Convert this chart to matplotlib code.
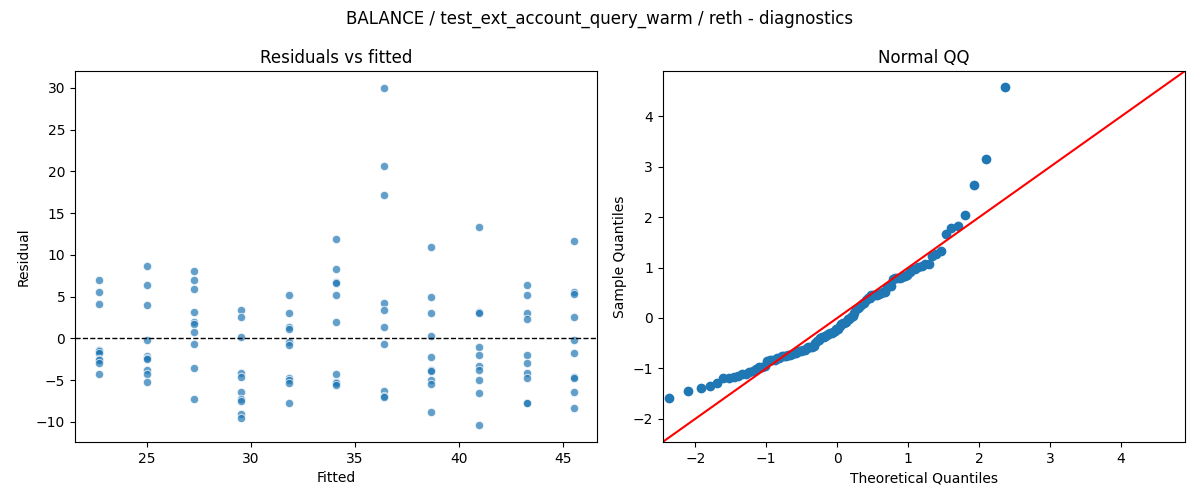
import numpy as np
import matplotlib
matplotlib.use("Agg")
import matplotlib.pyplot as plt
from statistics import NormalDist

# ── DATA ──────────────────────────────────────────────────────────────────
fitted_levels = [22.70, 25.00, 27.25, 29.55, 31.85, 34.10, 36.40, 38.65, 40.95, 43.25, 45.50]

resid_g1  = [7.0, 5.6, 4.1, -1.4, -1.5, -1.7, -2.5, -2.6, -2.9, -4.3]
resid_g2  = [8.7, 6.4, 4.0, -0.2, -2.1, -2.3, -2.5, -3.8, -4.3, -5.2]
resid_g3  = [8.1, 7.0, 5.9, 3.1, 2.0, 1.7, 0.7, -0.7, -3.6, -7.3]
resid_g4  = [3.4, 2.6, 0.1, -4.1, -4.6, -6.4, -7.3, -7.5, -9.1, -9.5]
resid_g5  = [5.2, 3.0, 1.4, 1.1, -0.5, -0.8, -4.7, -5.0, -5.4, -7.8]
resid_g6  = [11.9, 8.3, 6.8, 6.6, 5.2, 1.9, -4.3, -5.2, -5.4, -5.6]
resid_g7  = [30.0, 20.6, 17.2, 4.2, 3.4, 1.3, -0.7, -6.3, -6.9, -7.0]
resid_g8  = [10.9, 5.0, 3.0, 0.3, -2.2, -3.8, -3.9, -5.0, -5.5, -8.8]
resid_g9  = [13.3, 3.2, 3.0, -1.1, -2.0, -3.3, -3.8, -5.0, -6.6, -10.4]
resid_g10 = [6.4, 5.2, 3.0, 2.3, -2.0, -3.0, -4.2, -4.8, -7.7, -7.8]
resid_g11 = [11.7, 5.5, 5.3, 2.6, -0.2, -1.8, -4.6, -4.8, -6.4, -8.4]

groups = [resid_g1, resid_g2, resid_g3, resid_g4, resid_g5, resid_g6,
          resid_g7, resid_g8, resid_g9, resid_g10, resid_g11]

fitted = np.concatenate([[f] * len(g) for f, g in zip(fitted_levels, groups)])
resid = np.concatenate(groups)

# ── QQ (standardised residuals vs normal quantiles, positions i/(n+1)) ───
n = len(resid)
sample_q = np.sort((resid - resid.mean()) / resid.std())
theo_q = np.array([NormalDist().inv_cdf(i / (n + 1)) for i in range(1, n + 1)])

# ── PLOT ─────────────────────────────────────────────────────────────────
fig, (ax1, ax2) = plt.subplots(1, 2, figsize=(12, 5), dpi=100)
fig.suptitle("BALANCE / test_ext_account_query_warm / reth - diagnostics")

ax1.scatter(fitted, resid, s=36, color="#1f77b4", alpha=0.7,
            edgecolors="white", linewidths=0.75)
ax1.axhline(0, color="black", linestyle="--", linewidth=1)
ax1.set_title("Residuals vs fitted")
ax1.set_xlabel("Fitted")
ax1.set_ylabel("Residual")

lims = [-2.46, 4.9]
ax2.plot(theo_q, sample_q, "o", color="#1f77b4", markersize=6)
ax2.plot(lims, lims, "r-")
ax2.set_xlim(lims)
ax2.set_ylim(lims)
ax2.set_title("Normal QQ")
ax2.set_xlabel("Theoretical Quantiles")
ax2.set_ylabel("Sample Quantiles")

fig.subplots_adjust(left=0.0625, right=0.9875, bottom=0.116, top=0.858, wspace=0.125)
fig.savefig("out.png", dpi=100)
